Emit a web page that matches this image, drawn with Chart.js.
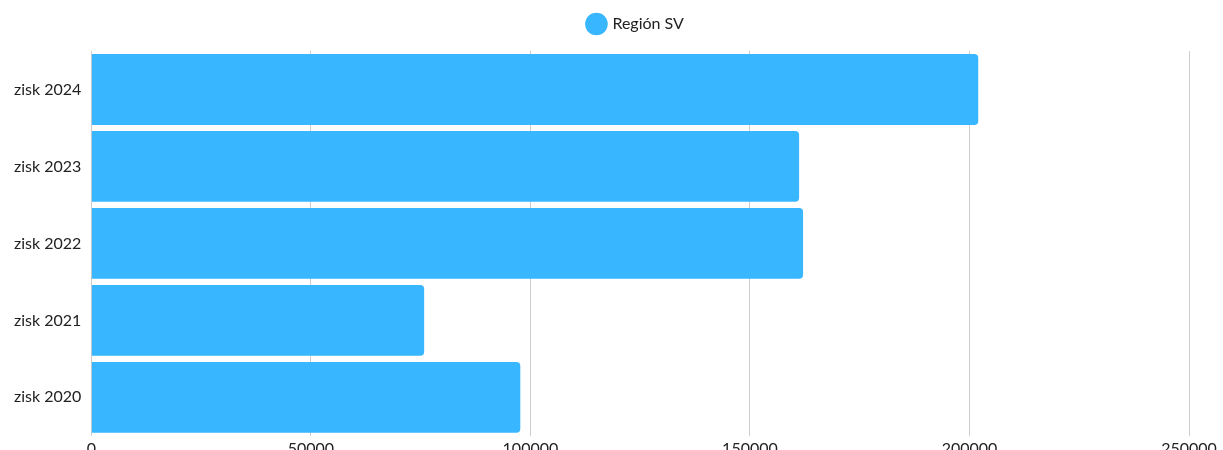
<!DOCTYPE html>
<html>
<head>
<meta charset="utf-8">
<script src="https://cdn.jsdelivr.net/npm/chart.js@4"></script>
<style>
  html, body { margin: 0; padding: 0; background: #fff; overflow: hidden; }
  #wrap { width: 1223px; height: 461px; position: relative; }
</style>
</head>
<body>
<div id="wrap"><canvas id="myChart"></canvas></div>
<script>
const categories = ["zisk 2024", "zisk 2023", "zisk 2022", "zisk 2021", "zisk 2020"];
const seriesName = "Región SV";
const values = [202000, 161200, 162100, 75800, 97700];
const xTicks = [0, 50000, 100000, 150000, 200000, 250000];

document.addEventListener("DOMContentLoaded", function () {
    const ctx = document.getElementById("myChart").getContext("2d");
    Chart.defaults.font.family = "Lato, 'Open Sans', sans-serif";
    Chart.defaults.font.size = 16;
    Chart.defaults.color = "#222";

    // more room under the legend, and centre it over the plot area
    const legendSpace = {
        id: "legendSpace",
        beforeInit(chart) {
            const orig = chart.legend.fit;
            chart.legend.fit = function () {
                orig.call(this);
                this.height += 9;
            };
        },
        afterLayout(chart) {
            const lg = chart.legend;
            const shift = (chart.chartArea.left + chart.chartArea.right) / 2 - (lg.left + lg.right) / 2 - 4;
            lg.left += shift;
            lg.right += shift;
        }
    };

    new Chart(ctx, {
        type: "bar",
        data: {
            labels: categories,
            datasets: [{
                label: seriesName,
                data: values,
                backgroundColor: "#38b6ff",
                borderRadius: 4,
                borderSkipped: "start",
                barPercentage: 1,
                categoryPercentage: 0.92
            }]
        },
        options: {
            indexAxis: "y",
            responsive: true,
            maintainAspectRatio: false,
            animation: false,
            layout: { padding: { left: 4, right: 34, top: 0 } },
            plugins: {
                legend: {
                    position: "top",
                    labels: {
                        usePointStyle: true,
                        pointStyle: "circle",
                        boxWidth: 16,
                        boxHeight: 16,
                        padding: 16,
                        color: "#222"
                    }
                },
                tooltip: { enabled: false }
            },
            scales: {
                x: {
                    min: 0,
                    max: 250000,
                    afterBuildTicks: axis => { axis.ticks = xTicks.map(v => ({ value: v })); },
                    grid: { color: "#cccccc", drawTicks: false },
                    border: { display: false },
                    ticks: { padding: 3, color: "#222", callback: v => String(v) }
                },
                y: {
                    grid: { display: false, drawTicks: false },
                    border: { display: true, color: "#cccccc" },
                    ticks: { padding: 10, color: "#222" }
                }
            }
        },
        plugins: [legendSpace]
    });
});
</script>
</body>
</html>
